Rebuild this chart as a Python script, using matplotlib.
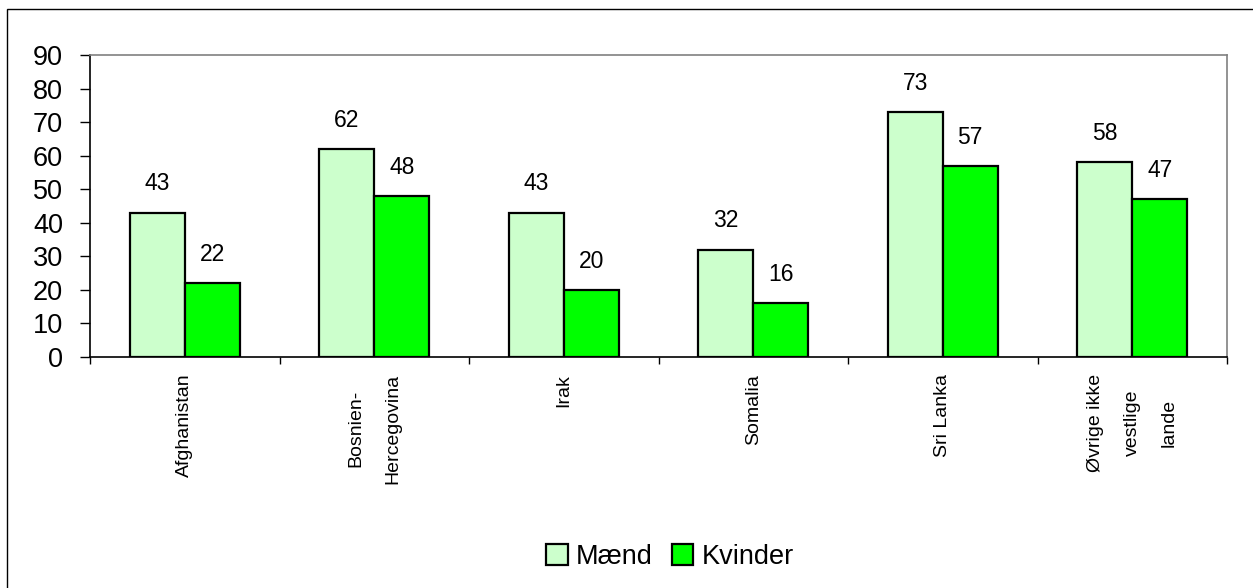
import matplotlib
matplotlib.use("Agg")
import matplotlib.pyplot as plt
from matplotlib.patches import Rectangle
import numpy as np

categories = ["Afghanistan", "Bosnien-\nHercegovina", "Irak", "Somalia", "Sri Lanka", "Øvrige ikke\nvestlige\nlande"]
maend = [43, 62, 43, 32, 73, 58]
kvinder = [22, 48, 20, 16, 57, 47]
series_names = ["Mænd", "Kvinder"]
yticks = [0, 10, 20, 30, 40, 50, 60, 70, 80, 90]

plt.rcParams['font.family'] = ['Liberation Sans', 'DejaVu Sans']

W, H = 1253, 588
fig = plt.figure(figsize=(W / 100, H / 100), dpi=100)
ax = fig.add_axes([90 / W, 1 - 357 / H, (1227 - 90) / W, (357 - 55) / H])

# figure border
fig.patches.append(Rectangle((7 / W, -0.1), 1.2, 1 - 9 / H + 0.1, transform=fig.transFigure,
                             fill=False, edgecolor='black', linewidth=1.0))

x = np.arange(len(categories))
bw = 0.29
b1 = ax.bar(x - bw / 2, maend, bw, color='#CCFFCC', edgecolor='black', linewidth=1.6, label=series_names[0])
b2 = ax.bar(x + bw / 2, kvinder, bw, color='#00FF00', edgecolor='black', linewidth=1.6, label=series_names[1])

for bars, vals in ((b1, maend), (b2, kvinder)):
    for r, v in zip(bars, vals):
        ax.annotate(str(v), (r.get_x() + r.get_width() / 2, v), xytext=(0, 16),
                    textcoords='offset points', ha='center', va='baseline', fontsize=16.5)

ax.set_xlim(-0.5, len(categories) - 0.5)
ax.set_ylim(0, 90)
ax.set_yticks(yticks)
ax.set_yticklabels([str(t) for t in yticks], fontsize=19.5)
ax.tick_params(axis='y', direction='out', length=7.5, width=1, pad=12)

ax.set_xticks(x)
ax.set_xticklabels(categories, rotation=90, fontsize=14, linespacing=2.5, multialignment='center')
ax.tick_params(axis='x', length=0, pad=12)
ax.set_xticks(np.arange(len(categories) + 1) - 0.5, minor=True)
ax.tick_params(axis='x', which='minor', direction='out', length=5, width=1)

for s in ('top', 'right'):
    ax.spines[s].set_color('#808080')
    ax.spines[s].set_linewidth(1.2)
for s in ('left', 'bottom'):
    ax.spines[s].set_color('black')
    ax.spines[s].set_linewidth(1.2)

fig.legend(handles=[b1, b2], labels=series_names, loc='center', bbox_to_anchor=(670 / W, 1 - 557 / H),
           ncol=2, frameon=False, fontsize=19.5, handlelength=0.8, handleheight=0.8,
           handletextpad=0.3, columnspacing=0.7, borderpad=0)

fig.savefig("out.png", dpi=100)
